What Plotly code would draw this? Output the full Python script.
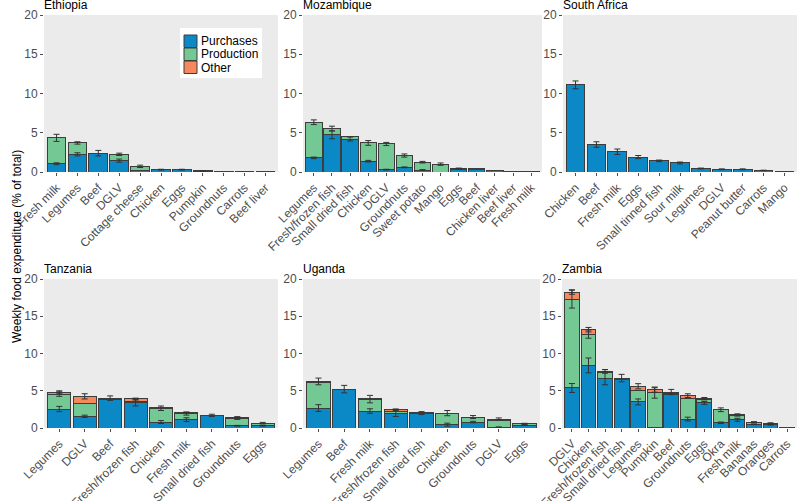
import plotly.graph_objects as go
import numpy as np

# ---- data (% of weekly food expenditure) ----
countries = ["Ethiopia", "Mozambique", "South Africa", "Tanzania", "Uganda", "Zambia"]

eth_foods = ["Fresh milk", "Legumes", "Beef", "DGLV", "Cottage cheese", "Chicken", "Eggs",
             "Pumpkin", "Groundnuts", "Carrots", "Beef liver"]
eth_purch = [1.05, 2.25, 2.4, 1.45, 0.15, 0.3, 0.3, 0.12, 0.05, 0.05, 0.02]
eth_prod = [3.3, 1.45, 0.0, 0.8, 0.57, 0.0, 0.0, 0.03, 0.0, 0.0, 0.0]
eth_other = [0.0, 0.05, 0.0, 0.0, 0.0, 0.0, 0.0, 0.0, 0.0, 0.0, 0.0]
eth_purch_err = [0.12, 0.2, 0.35, 0.2, 0.0, 0.05, 0.05, 0.03, 0.0, 0.0, 0.0]
eth_prod_err = [0.45, 0.15, 0.0, 0.15, 0.15, 0.0, 0.0, 0.0, 0.0, 0.0, 0.0]
eth_other_err = [0.0] * 11

moz_foods = ["Legumes", "Fresh/frozen fish", "Small dried fish", "Chicken", "DGLV", "Groundnuts",
             "Sweet potato", "Mango", "Eggs", "Beef", "Chicken liver", "Beef liver", "Fresh milk"]
moz_purch = [1.8, 4.73, 4.2, 1.38, 0.3, 0.6, 0.25, 0.0, 0.3, 0.38, 0.2, 0.05, 0.03]
moz_prod = [4.54, 0.81, 0.3, 2.32, 3.27, 1.5, 1.0, 1.0, 0.15, 0.02, 0.0, 0.0, 0.0]
moz_other = [0.0] * 13
moz_purch_err = [0.1, 0.5, 0.25, 0.1, 0.05, 0.05, 0.05, 0.0, 0.0, 0.0, 0.0, 0.0, 0.0]
moz_prod_err = [0.3, 0.3, 0.0, 0.3, 0.2, 0.2, 0.1, 0.15, 0.05, 0.0, 0.0, 0.0, 0.0]
moz_other_err = [0.0] * 13

sa_foods = ["Chicken", "Beef", "Fresh milk", "Eggs", "Small tinned fish", "Sour milk", "Legumes",
            "DGLV", "Peanut butter", "Carrots", "Mango"]
sa_purch = [11.1, 3.5, 2.58, 1.9, 1.42, 1.15, 0.45, 0.35, 0.35, 0.2, 0.05]
sa_prod = [0.0] * 11
sa_other = [0.0] * 11
sa_purch_err = [0.5, 0.35, 0.35, 0.2, 0.1, 0.12, 0.05, 0.05, 0.05, 0.03, 0.0]
sa_prod_err = [0.0] * 11
sa_other_err = [0.0] * 11

tza_foods = ["Legumes", "DGLV", "Beef", "Fresh/frozen fish", "Chicken", "Fresh milk",
             "Small dried fish", "Groundnuts", "Eggs"]
tza_purch = [2.55, 1.57, 3.76, 3.36, 0.8, 1.12, 1.7, 0.3, 0.3]
tza_prod = [2.0, 1.78, 0.15, 0.2, 1.85, 0.81, 0.0, 1.0, 0.35]
tza_other = [0.24, 0.9, 0.1, 0.35, 0.05, 0.15, 0.0, 0.12, 0.0]
tza_purch_err = [0.35, 0.15, 0.0, 0.4, 0.2, 0.25, 0.15, 0.05, 0.05]
tza_prod_err = [0.3, 0.0, 0.0, 0.0, 0.3, 0.2, 0.0, 0.15, 0.1]
tza_other_err = [0.2, 0.35, 0.3, 0.1, 0.0, 0.05, 0.0, 0.1, 0.0]

uga_foods = ["Legumes", "Beef", "Fresh milk", "Fresh/frozen fish", "Small dried fish", "Chicken",
             "Groundnuts", "DGLV", "Eggs"]
uga_purch = [2.68, 5.22, 2.28, 2.0, 2.0, 0.45, 0.8, 0.1, 0.4]
uga_prod = [3.47, 0.0, 1.6, 0.2, 0.1, 1.55, 0.67, 0.93, 0.18]
uga_other = [0.1, 0.0, 0.14, 0.26, 0.0, 0.0, 0.0, 0.17, 0.0]
uga_purch_err = [0.45, 0.5, 0.3, 0.45, 0.2, 0.2, 0.1, 0.05, 0.05]
uga_prod_err = [0.0, 0.0, 0.5, 0.0, 0.0, 0.35, 0.2, 0.0, 0.05]
uga_other_err = [0.45, 0.0, 0.0, 0.1, 0.0, 0.0, 0.0, 0.15, 0.0]

zam_foods = ["DGLV", "Chicken", "Fresh/frozen fish", "Small dried fish", "Legumes", "Pumpkin",
             "Beef", "Groundnuts", "Eggs", "Okra", "Fresh milk", "Bananas", "Oranges", "Carrots"]
zam_purch = [5.37, 8.4, 6.7, 6.45, 3.5, 0.13, 4.55, 1.2, 3.37, 0.7, 1.1, 0.5, 0.45, 0.05]
zam_prod = [11.93, 4.2, 0.75, 0.15, 1.5, 4.57, 0.05, 2.8, 0.5, 1.75, 0.62, 0.25, 0.15, 0.0]
zam_other = [0.95, 0.6, 0.15, 0.1, 0.6, 0.45, 0.23, 0.34, 0.07, 0.05, 0.03, 0.05, 0.05, 0.0]
zam_purch_err = [0.6, 1.0, 0.9, 0.0, 0.4, 0.0, 0.0, 0.25, 0.2, 0.1, 0.2, 0.05, 0.05, 0.0]
zam_prod_err = [1.2, 0.55, 0.0, 0.0, 0.0, 0.7, 0.0, 0.0, 0.0, 0.25, 0.0, 0.0, 0.0, 0.0]
zam_other_err = [0.3, 0.3, 0.25, 0.5, 0.35, 0.35, 0.35, 0.25, 0.15, 0.0, 0.15, 0.05, 0.05, 0.0]

y_ticks = [0, 5, 10, 15, 20]

panels = [
    (eth_foods, eth_purch, eth_prod, eth_other, eth_purch_err, eth_prod_err, eth_other_err),
    (moz_foods, moz_purch, moz_prod, moz_other, moz_purch_err, moz_prod_err, moz_other_err),
    (sa_foods, sa_purch, sa_prod, sa_other, sa_purch_err, sa_prod_err, sa_other_err),
    (tza_foods, tza_purch, tza_prod, tza_other, tza_purch_err, tza_prod_err, tza_other_err),
    (uga_foods, uga_purch, uga_prod, uga_other, uga_purch_err, uga_prod_err, uga_other_err),
    (zam_foods, zam_purch, zam_prod, zam_other, zam_purch_err, zam_prod_err, zam_other_err),
]

sources = ["Purchases", "Production", "Other"]
colors = {"Purchases": "#0B89C7", "Production": "#74C894", "Other": "#F5885C"}

W, H = 798, 501
# panel boxes in pixels: (left, right, top, bottom)
boxes = [(44, 278, 15, 172), (303, 542, 15, 172), (563, 797, 15, 172),
         (44, 278, 279, 428), (303, 540, 279, 428), (562, 797, 279, 428)]

FONT = "Liberation Sans, Arial, sans-serif"
fig = go.Figure()
layout = {}

for i, (foods, pu, pr, ot, pue, pre, ote) in enumerate(panels):
    n = i + 1
    xa = "x" if n == 1 else f"x{n}"
    ya = "y" if n == 1 else f"y{n}"
    vals = [np.array(pu), np.array(pr), np.array(ot)]
    errs = [pue, pre, ote]
    for s, v in zip(sources, vals):
        fig.add_trace(go.Bar(
            x=foods, y=v, name=s, xaxis=xa, yaxis=ya,
            marker=dict(color=colors[s], line=dict(color="#3d3d3d", width=1)),
            showlegend=False, width=0.9,
        ))
    cum = np.cumsum(np.vstack(vals), axis=0)
    for k in range(3):
        e = np.array(errs[k])
        mask = e > 0
        if not mask.any():
            continue
        fig.add_trace(go.Scatter(
            x=[f for f, m in zip(foods, mask) if m], y=cum[k][mask],
            xaxis=xa, yaxis=ya, mode="markers", showlegend=False, hoverinfo="skip",
            marker=dict(size=1, color="rgba(0,0,0,0)"),
            error_y=dict(type="data", array=e[mask], color="#333333", thickness=1, width=3),
        ))

    l, r, t, b = boxes[i]
    key = "" if n == 1 else str(n)
    layout["xaxis" + key] = dict(
        domain=[l / W, r / W], anchor=ya, range=[-0.6, len(foods) - 0.4],
        tickangle=-45, tickfont=dict(size=12, color="#4D4D4D", family=FONT),
        ticks="outside", ticklen=3, tickcolor="#4D4D4D", showgrid=False, zeroline=False,
        categoryorder="array", categoryarray=foods, fixedrange=True, automargin=False,
    )
    layout["yaxis" + key] = dict(
        domain=[1 - b / H, 1 - t / H], anchor=xa, range=[0, 20], tickvals=y_ticks,
        tickfont=dict(size=12, color="#4D4D4D", family=FONT), automargin=False,
        ticks="outside", ticklen=3, tickcolor="#4D4D4D", showgrid=False, zeroline=False,
    )
    fig.add_annotation(
        text=countries[i], xref="paper", yref="paper", x=(l - 2) / W, y=1 - (t - 10) / H,
        xanchor="left", yanchor="middle", showarrow=False,
        font=dict(size=12, color="black", family=FONT),
    )
    fig.add_shape(type="rect", xref="paper", yref="paper", layer="below",
                  x0=l / W, x1=r / W, y0=1 - b / H, y1=1 - t / H,
                  fillcolor="#EBEBEB", line=dict(width=0))

fig.add_annotation(
    text="Weekly food expenditure (% of total)", xref="paper", yref="paper",
    x=8 / W, y=1 - 247 / H, textangle=-90, showarrow=False,
    font=dict(size=12, color="black", family=FONT),
)

# compact ggplot-style legend inside the Ethiopia panel
fig.add_shape(type="rect", xref="paper", yref="paper",
              x0=180 / W, x1=262 / W, y0=1 - 78 / H, y1=1 - 28 / H,
              fillcolor="white", line=dict(width=0))
for j, s in enumerate(sources):
    top = 35 + j * 13
    fig.add_shape(type="rect", xref="paper", yref="paper",
                  x0=184 / W, x1=197 / W, y0=1 - (top + 12.5) / H, y1=1 - top / H,
                  fillcolor=colors[s], line=dict(color="#3d3d3d", width=1))
    fig.add_annotation(text=s, xref="paper", yref="paper", x=199 / W, y=1 - (top + 6.5) / H,
                       xanchor="left", yanchor="middle", showarrow=False,
                       font=dict(size=12, color="black", family=FONT))

fig.update_layout(
    width=W, height=H, margin=dict(l=0, r=0, t=0, b=0, autoexpand=False),
    paper_bgcolor="white", plot_bgcolor="rgba(0,0,0,0)",
    barmode="stack", showlegend=False,
    **layout,
)

# drop the page's default body margin so the figure sits at the window's corner
fig.write_html("out.html", config={"displayModeBar": False},
               post_script="document.body.style.margin='0';document.body.style.overflow='hidden';")
